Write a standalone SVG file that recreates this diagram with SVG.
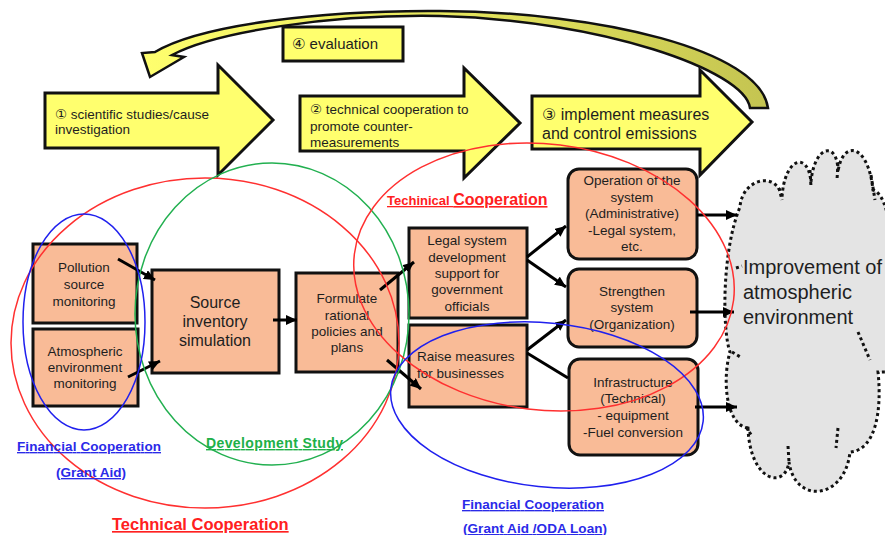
<svg xmlns="http://www.w3.org/2000/svg" width="885" height="535" viewBox="0 0 885 535">
  <defs>
    <style>
      text { font-family: "Liberation Sans", "DejaVu Sans", Arial, sans-serif; fill: #1e1e1e; }
      .box { fill: #f9bb97; stroke: #111; stroke-width: 3; }
      .step { fill: #ffff6e; stroke: #111; stroke-width: 3; stroke-linejoin: miter; }
      .t13 { font-size: 13.5px; text-anchor: middle; }
      .t16 { font-size: 16px; text-anchor: middle; }
      .conn { stroke: #000; stroke-width: 3; fill: none; }
      .ring { fill: none; stroke-width: 1.5; }
      .lbl { font-weight: bold; text-decoration: underline; }
      .cloud { fill: #e4e4e4; stroke: #111; stroke-width: 3; stroke-dasharray: 3 3; }
      .cusp { fill: none; stroke: #111; stroke-width: 3; stroke-dasharray: 3 3; }
    </style>
    <marker id="ah" markerUnits="userSpaceOnUse" markerWidth="12" markerHeight="10" refX="11" refY="5" orient="auto">
      <path d="M0,0 L11,5 L0,10 Z" fill="#000"/>
    </marker>
    <linearGradient id="loop" x1="0" y1="0" x2="1" y2="0">
      <stop offset="0" stop-color="#ffff6e"/>
      <stop offset="0.5" stop-color="#e6e65e"/>
      <stop offset="1" stop-color="#c4c451"/>
    </linearGradient>
  </defs>

  <!-- feedback loop arrow (evaluation) -->
  <g id="loop-arrow">
    <path d="M155,52 C200,25 320,10 440,11 C600,12 760,50 768,108 L750,108 C745,70 600,20 440,16 C330,14 215,32 172,55 L184,57 L150,77 L142,53 Z"
          fill="url(#loop)" stroke="#111" stroke-width="2.5" stroke-linejoin="miter"/>
  </g>

  <g id="evaluation">
    <rect x="283" y="27" width="120" height="34" class="step"/>
    <text x="292" y="49" font-size="15">④ evaluation</text>
  </g>

  <!-- process steps -->
  <g id="step1">
    <path class="step" d="M45,93 H218 V65 L273,120 L218,175 V148 H45 Z"/>
    <text x="55" y="119" font-size="13.5">① scientific studies/cause</text>
    <text x="55" y="134" font-size="13.5">investigation</text>
  </g>
  <g id="step2">
    <path class="step" d="M300,96 H464 V68 L520,123 L464,178 V151 H300 Z"/>
    <text x="310" y="114" font-size="13.5">② technical cooperation to</text>
    <text x="310" y="131" font-size="13.5">promote counter-</text>
    <text x="310" y="147" font-size="13.5">measurements</text>
  </g>
  <g id="step3">
    <path class="step" d="M532,96 H700 V70 L752,122 L700,175 V149 H532 Z"/>
    <text x="542" y="120" font-size="16">③ implement measures</text>
    <text x="542" y="139" font-size="16">and control emissions</text>
  </g>

  <!-- outcome cloud -->
  <g id="improvement">
    <path class="cloud" d="M748,428 C726,425 722,380 730,352 C722,330 722,250 740,207 C742,178 778,170 782,198 C784,158 808,150 811,182 C814,145 838,140 838,172 C842,140 868,142 873,190 C890,195 895,250 886,285 L895,290 L895,372 L878,372 C882,410 876,450 850,452 C845,500 795,505 789,462 C785,490 750,482 748,428 Z"/>
    <path class="cusp" d="M779,188 L782,200 M810,170 L811,187 M838,163 L837,180 M871,175 L875,200 M858,332 L870,360 M838,428 L836,448 M788,446 L789,462 M746,427 L752,436 M732,352 L742,358 M736,268 L742,266"/>
    <text x="743" y="274" font-size="20">Improvement of</text>
    <text x="743" y="299" font-size="20">atmospheric</text>
    <text x="743" y="324" font-size="20">environment</text>
  </g>

  <!-- nodes -->
  <g id="pollution-monitoring">
    <rect class="box" x="33" y="244" width="104" height="79"/>
    <text class="t13" x="84" y="272">Pollution</text>
    <text class="t13" x="84" y="289">source</text>
    <text class="t13" x="84" y="306">monitoring</text>
  </g>
  <g id="atmospheric-monitoring">
    <rect class="box" x="33" y="329" width="105" height="77"/>
    <text class="t13" x="85" y="356">Atmospheric</text>
    <text class="t13" x="85" y="372">environment</text>
    <text class="t13" x="85" y="388">monitoring</text>
  </g>
  <g id="source-inventory">
    <rect class="box" x="152" y="270" width="127" height="103"/>
    <text class="t16" x="215" y="308">Source</text>
    <text class="t16" x="215" y="327">inventory</text>
    <text class="t16" x="215" y="346">simulation</text>
  </g>
  <g id="formulate-policies">
    <rect class="box" x="296" y="273" width="102" height="99"/>
    <text class="t13" x="347" y="303">Formulate</text>
    <text class="t13" x="347" y="320">rational</text>
    <text class="t13" x="347" y="336">policies and</text>
    <text class="t13" x="347" y="352">plans</text>
  </g>
  <g id="legal-support">
    <rect class="box" x="409" y="228" width="118" height="90"/>
    <text class="t13" x="467" y="245">Legal system</text>
    <text class="t13" x="467" y="262">development</text>
    <text class="t13" x="467" y="278">support for</text>
    <text class="t13" x="467" y="294">government</text>
    <text class="t13" x="467" y="311">officials</text>
  </g>
  <g id="business-measures">
    <rect class="box" x="409" y="325" width="118" height="82"/>
    <text x="417" y="361" font-size="13.5">Raise measures</text>
    <text x="417" y="378" font-size="13.5">for businesses</text>
  </g>
  <g id="operation-system">
    <rect class="box" x="568" y="169" width="129" height="90" rx="11"/>
    <text class="t13" x="632" y="185">Operation of the</text>
    <text class="t13" x="632" y="202">system</text>
    <text class="t13" x="632" y="218">(Administrative)</text>
    <text class="t13" x="632" y="235">-Legal system,</text>
    <text class="t13" x="632" y="251">etc.</text>
  </g>
  <g id="strengthen-system">
    <rect class="box" x="568" y="269" width="129" height="78" rx="11"/>
    <text class="t13" x="632" y="296">Strengthen</text>
    <text class="t13" x="632" y="312">system</text>
    <text class="t13" x="632" y="329">(Organization)</text>
  </g>
  <g id="infrastructure">
    <rect class="box" x="569" y="359" width="129" height="96" rx="11"/>
    <text class="t13" x="633" y="387">Infrastructure</text>
    <text class="t13" x="633" y="403">(Technical)</text>
    <text class="t13" x="633" y="420">- equipment</text>
    <text class="t13" x="633" y="437">-Fuel conversion</text>
  </g>

  <!-- connectors -->
  <g id="connectors">
    <line class="conn" x1="118" y1="259" x2="155" y2="280" marker-end="url(#ah)"/>
    <line class="conn" x1="128" y1="377" x2="160" y2="361" marker-end="url(#ah)"/>
    <line class="conn" x1="273" y1="320" x2="297" y2="320" marker-end="url(#ah)"/>
    <line class="conn" x1="380" y1="290" x2="414" y2="262" marker-end="url(#ah)"/>
    <line class="conn" x1="387" y1="360" x2="421" y2="389" marker-end="url(#ah)"/>
    <line class="conn" x1="527" y1="257" x2="566" y2="226" marker-end="url(#ah)"/>
    <line class="conn" x1="527" y1="260" x2="566" y2="287" marker-end="url(#ah)"/>
    <line class="conn" x1="527" y1="350" x2="566" y2="320" marker-end="url(#ah)"/>
    <line class="conn" x1="527" y1="353" x2="568" y2="378"/>
    <line class="conn" x1="697" y1="215" x2="737" y2="215" marker-end="url(#ah)"/>
    <line class="conn" x1="690" y1="312" x2="734" y2="312" marker-end="url(#ah)"/>
    <line class="conn" x1="695" y1="407" x2="737" y2="407" marker-end="url(#ah)"/>
  </g>

  <!-- cooperation scopes -->
  <g id="scopes">
    <ellipse class="ring" cx="205" cy="343" rx="194" ry="165" stroke="#ff3030"/>
    <ellipse class="ring" cx="272" cy="314" rx="137" ry="151" stroke="#22b050"/>
    <ellipse class="ring" cx="84" cy="322" rx="61" ry="108" stroke="#2020ee"/>
    <ellipse class="ring" cx="544" cy="277" rx="191" ry="133" stroke="#ff3030" transform="rotate(7 544 277)"/>
    <ellipse class="ring" cx="547" cy="405" rx="157" ry="82" stroke="#2020ee" transform="rotate(6 547 405)"/>
  </g>

  <g id="scope-labels">
    <text class="lbl" x="387" y="205" style="fill:#ff2020"><tspan font-size="13">Techinical </tspan><tspan font-size="16">Cooperation</tspan></text>
    <text class="lbl" x="17" y="451" font-size="13.5" style="fill:#2a2ae8" textLength="144">Financial Cooperation</text>
    <text class="lbl" x="56" y="477" font-size="13.5" style="fill:#2a2ae8">(Grant Aid)</text>
    <text class="lbl" x="206" y="448" font-size="14" style="fill:#20b048" textLength="137">Development Study</text>
    <text class="lbl" x="112" y="530" font-size="16.5" style="fill:#ff2020">Technical Cooperation</text>
    <text class="lbl" x="462" y="509" font-size="13.5" style="fill:#2a2ae8" textLength="142">Financial Cooperation</text>
    <text class="lbl" x="463" y="533" font-size="13.5" style="fill:#2a2ae8" textLength="144">(Grant Aid /ODA Loan)</text>
  </g>
</svg>
